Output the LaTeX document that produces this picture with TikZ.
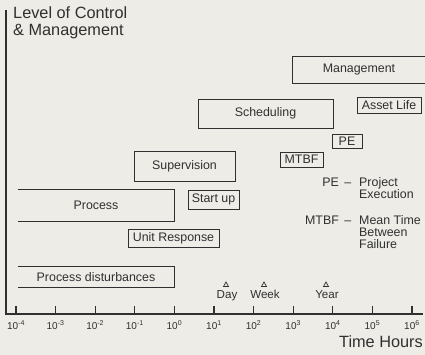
\documentclass[tikz,border=0pt]{standalone}
\usepackage{fontspec}
\setmainfont{Liberation Sans}
\definecolor{bg}{HTML}{EDECE7}
\definecolor{ink}{HTML}{303030}
\tikzset{
  lbl/.style={font=\fontsize{12.4}{14}\selectfont, text=ink, inner sep=0pt},
  big/.style={font=\fontsize{16.3}{18}\selectfont, text=ink, inner sep=0pt},
  small/.style={font=\fontsize{11.6}{13}\selectfont, text=ink, inner sep=0pt},
  ticklbl/.style={font=\fontsize{10}{11}\selectfont, text=ink, inner sep=0pt},
  boxed/.style={lbl, draw=ink, line width=0.9pt},
  edge/.style={draw=ink, line width=0.9pt},
  axisline/.style={draw=ink, line width=1.9pt},
  tickline/.style={draw=ink, line width=1.1pt},
  marker/.style={draw=ink, line width=0.7pt, line join=miter}
}
\begin{document}
\begin{tikzpicture}[x=1pt,y=-1pt]
\fill[bg] (0,0) rectangle (425,355);
\useasboundingbox (0,0) rectangle (425,355);

% title
\node[big, anchor=base west] (t1) at (13,18.3) {Level of Control};
\node[big, anchor=base west] (t2) at (13,35.7) {\& Management};

% axes
\coordinate (ytop) at (6,10);
\coordinate (origin) at (6,314);
\coordinate (xend) at (423,314);
\draw[axisline] (ytop) -- (origin) -- (xend);

% ticks and labels
\foreach \i/\e in {0/-4,1/-3,2/-2,3/-1,4/0,5/1,6/2,7/3,8/4,9/5,10/6}{
  \coordinate (tk\i) at ({16+39.6*\i},306);
  \coordinate (tb\i) at ({16+39.6*\i},314);
  \draw[tickline] (tk\i) -- (tb\i);
  \node[ticklbl] (tl\i) at ({16+39.6*\i},325) {10\textsuperscript{\e}};
}
\node[big, anchor=base east] (xlab) at (423,347.3) {Time Hours};

% Day / Week / Year
\node[small, anchor=base] (day) at (227,298) {Day};
\node[small, anchor=base] (week) at (265,298) {Week};
\node[small, anchor=base] (year) at (327,298) {Year};
\draw[marker] (223.5,286.5) -- (226,282) -- (228.5,286.5) -- cycle;
\draw[marker] (261.5,286.5) -- (264,282) -- (266.5,286.5) -- cycle;
\draw[marker] (323.5,286.5) -- (326,282) -- (328.5,286.5) -- cycle;

% open boxes
\node[lbl, minimum width=132pt, minimum height=26pt] (mgmt) at (359,70) {Management};
\draw[edge] (mgmt.north east) -- (mgmt.north west) -- (mgmt.south west) -- (mgmt.south east);

\node[lbl, minimum width=156pt, minimum height=31pt] (proc) at (96,205.5) {Process};
\draw[edge] (proc.north west) -- (proc.north east) -- (proc.south east) -- (proc.south west);

\node[lbl, minimum width=156pt, minimum height=20pt] (pdist) at (96,277) {Process disturbances};
\draw[edge] (pdist.north west) -- (pdist.north east) -- (pdist.south east) -- (pdist.south west);

% closed boxes
\node[boxed, minimum width=64pt, minimum height=16pt] (asset) at (389,105.5) {Asset Life};
\node[boxed, minimum width=135pt, minimum height=29pt] (sched) at (265.5,113.5) {Scheduling};
\node[boxed, minimum width=30pt, minimum height=14pt] (pe) at (347,141) {PE};
\node[boxed, minimum width=43pt, minimum height=15pt] (mtbf) at (301.5,159.5) {MTBF};
\node[boxed, minimum width=101pt, minimum height=30pt] (sup) at (184.5,166) {Supervision};
\node[boxed, minimum width=51pt, minimum height=19pt] (start) at (213.5,199.5) {Start up};
\node[boxed, minimum width=91pt, minimum height=18pt] (unit) at (173.5,238) {Unit Response};

% legend
\node[lbl, anchor=base east] (lpe) at (351.5,186.7) {PE \,–};
\node[lbl, anchor=base west] (lpe1) at (359,186.7) {Project};
\node[lbl, anchor=base west] (lpe2) at (359,198.8) {Execution};
\node[lbl, anchor=base east] (lmt) at (351.5,224) {MTBF \,–};
\node[lbl, anchor=base west] (lmt1) at (359,224) {Mean Time};
\node[lbl, anchor=base west] (lmt2) at (359,236.3) {Between};
\node[lbl, anchor=base west] (lmt3) at (359,248.6) {Failure};
\end{tikzpicture}
\end{document}
